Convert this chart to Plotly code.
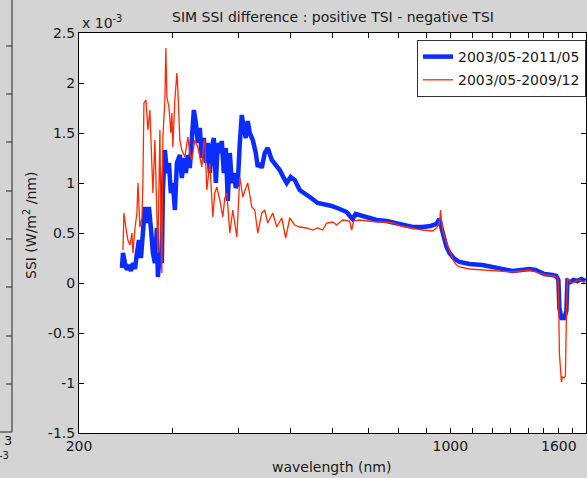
import math
import plotly.graph_objects as go

# ---------------- data (SSI difference in units of 1e-3 W/m^2/nm) ----------------
wl_2011 = [240.9, 242.0, 244.1, 246.2, 248.3, 250.5, 252.7, 254.9, 257.1, 259.3, 261.6, 263.8,
           266.1, 268.4, 270.8, 273.1, 275.5, 277.9, 280.3, 281.5, 284.0, 286.4, 287.7, 290.2,
           292.7, 295.3, 297.8, 300.4, 303.0, 305.7, 309.6, 312.3, 315.1, 317.8, 320.6, 323.3,
           326.2, 329.0, 331.9, 334.7, 337.6, 340.6, 343.5, 346.5, 349.5, 352.6, 355.6, 358.7,
           361.9, 365.0, 368.2, 371.4, 374.6, 377.9, 381.1, 384.5, 387.8, 391.2, 394.6, 398.0,
           401.5, 405.0, 408.5, 412.0, 415.6, 419.2, 424.7, 430.3, 434.0, 437.8, 441.6, 447.3,
           453.2, 461.1, 469.2, 477.4, 485.7, 492.0, 500.6, 509.4, 520.5, 531.9, 543.6, 562.7,
           580.0, 597.9, 618.9, 638.0, 649.1, 654.7, 663.3, 680.8, 704.7, 726.4, 758.5, 792.1,
           820.0, 848.9, 886.4, 917.7, 941.8, 954.1, 962.4, 975.0, 983.5, 996.3, 1013.7, 1040.4,
           1086.4, 1149.3, 1195.0, 1237.1, 1275.1, 1308.7, 1360.7, 1408.6, 1445.7, 1470.9, 1503.1,
           1556.1, 1583.2, 1597.0, 1603.9, 1617.9, 1639.0, 1653.3, 1660.4, 1682.1, 1704.1, 1733.9,
           1764.2, 1795.0]
ssi_2011 = [0.15, 0.30, 0.20, 0.13, 0.18, 0.12, 0.20, 0.14, 0.30, 0.43, 0.25, 0.45,
            0.76, 0.60, 0.76, 0.55, 0.30, 0.20, 0.55, 0.06, 0.30, 0.20, 0.93, 1.33,
            1.10, 1.20, 0.90, 1.00, 0.73, 1.20, 1.28, 1.05, 1.25, 1.10, 1.28, 1.15,
            1.55, 1.73, 1.60, 1.40, 1.55, 1.25, 1.45, 1.20, 1.40, 1.10, 1.35, 1.45,
            1.00, 1.40, 1.30, 1.42, 1.10, 1.35, 0.82, 1.30, 1.00, 1.10, 0.95, 1.00,
            1.40, 1.68, 1.55, 1.45, 1.62, 1.50, 1.43, 1.30, 1.16, 1.20, 1.15, 1.30,
            1.35, 1.23, 1.18, 1.13, 1.05, 1.00, 1.06, 1.03, 0.93, 0.90, 0.86, 0.80,
            0.79, 0.77, 0.74, 0.71, 0.66, 0.64, 0.69, 0.67, 0.65, 0.63, 0.62, 0.60,
            0.58, 0.56, 0.56, 0.57, 0.59, 0.64, 0.55, 0.43, 0.36, 0.30, 0.25, 0.21,
            0.19, 0.18, 0.16, 0.15, 0.13, 0.12, 0.13, 0.14, 0.13, 0.11, 0.09,
            0.08, 0.07, 0.03, -0.25, -0.35, -0.35, -0.28, 0.02, 0.01, 0.03, 0.02,
            0.04, 0.02]

wl_2009 = [242.0, 243.0, 245.1, 247.2, 249.4, 251.6, 252.7, 254.9, 257.1, 258.2, 260.4, 262.7,
           263.8, 265.0, 267.3, 269.6, 271.9, 273.1, 274.3, 275.5, 277.9, 280.3, 281.5, 282.7,
           284.0, 285.2, 286.4, 287.7, 290.2, 291.4, 292.7, 295.3, 297.8, 299.1, 300.4, 303.0,
           305.7, 307.0, 309.6, 312.3, 316.4, 320.6, 323.3, 326.2, 330.4, 334.7, 337.6, 340.6,
           343.5, 345.0, 348.0, 352.6, 357.2, 360.3, 363.4, 368.2, 373.0, 376.2, 379.5, 384.5,
           389.5, 392.9, 396.3, 401.5, 406.7, 412.0, 415.6, 422.9, 428.4, 434.0, 441.6, 447.3,
           453.2, 463.1, 471.2, 481.5, 489.9, 498.5, 509.4, 520.5, 536.5, 550.7, 562.7, 575.0,
           585.1, 600.4, 610.9, 627.0, 646.3, 651.9, 657.6, 674.9, 698.7, 726.4, 752.0, 778.5,
           809.4, 837.9, 863.7, 886.4, 925.7, 941.8, 954.1, 958.3, 966.6, 979.2, 996.3, 1013.7,
           1027.0, 1040.4, 1086.4, 1149.3, 1195.0, 1237.1, 1308.7, 1360.7, 1408.6, 1470.9,
           1516.2, 1569.6, 1590.1, 1597.0, 1603.9, 1617.9, 1624.9, 1639.0, 1646.1, 1653.3,
           1660.4, 1682.1, 1696.8, 1726.4, 1749.0, 1779.5, 1795.0]
ssi_2009 = [0.33, 0.70, 0.55, 0.43, 0.38, 0.50, 0.30, 0.55, 0.70, 1.00, 0.56, 0.65,
            1.00, 1.80, 1.83, 1.53, 1.73, 1.50, 1.26, 0.90, 1.43, 0.73, 0.30, 0.90,
            1.53, 0.60, 0.10, 1.46, 1.83, 2.35, 1.86, 1.76, 1.50, 1.70, 1.36, 1.83,
            2.10, 1.93, 1.43, 1.33, 1.26, 1.46, 1.30, 1.23, 1.43, 1.36, 1.25, 1.16,
            1.40, 1.43, 0.93, 1.20, 0.66, 0.90, 0.96, 0.83, 0.66, 0.85, 0.90, 0.50,
            0.73, 0.60, 0.46, 1.06, 0.86, 0.95, 1.00, 0.76, 0.73, 0.50, 0.70, 0.73,
            0.60, 0.70, 0.56, 0.65, 0.45, 0.65, 0.58, 0.56, 0.55, 0.53, 0.55, 0.53,
            0.60, 0.61, 0.58, 0.63, 0.62, 0.53, 0.62, 0.63, 0.62, 0.61, 0.61, 0.60,
            0.57, 0.55, 0.54, 0.53, 0.52, 0.55, 0.60, 0.73, 0.53, 0.43, 0.33, 0.22,
            0.18, 0.16, 0.14, 0.13, 0.12, 0.12, 0.11, 0.12, 0.13, 0.10,
            0.08, 0.07, 0.06, 0.00, -0.70, -0.99, -0.94, -0.95, -0.93, -0.34,
            0.05, 0.01, 0.00, 0.02, 0.03, 0.01, 0.02]

series_names = ["2003/05-2011/05", "2003/05-2009/12"]
x_labelled_ticks = [200, 1000, 1600]
x_labels = ["200", "1000", "1600"]
x_minor_ticks = [300, 400, 500, 600, 700, 800, 900, 1100, 1200, 1300, 1400, 1500, 1700]
y_tickvals = [2.5, 2, 1.5, 1, 0.5, 0, -0.5, -1, -1.5]
y_ticktext = ["2.5", "2", "1.5", "1", "0.5", "0", "-0.5", "-1", "-1.5"]

# ---------------- layout helpers ----------------
W, H = 587, 478
ML, MR, MT, MB = 79, 1, 33, 45
PW, PH = W - ML - MR, H - MT - MB


def px(x):
    return (x - ML) / PW


def py(y):
    return (MT + PH - y) / PH


FONT = "DejaVu Sans"
TXT = "#1a1a1a"

fig = go.Figure()
fig.add_trace(go.Scatter(x=wl_2011, y=ssi_2011, mode="lines", name=series_names[0],
                         line=dict(color="#0a2cff", width=4.5), legendgroup="a"))
fig.add_trace(go.Scatter(x=wl_2009, y=ssi_2009, mode="lines", name=series_names[1],
                         line=dict(color="#ff2a00", width=1.3), legendgroup="b"))

axis_common = dict(showline=True, linecolor="black", linewidth=1, mirror="ticks",
                   ticks="inside", ticklen=5, tickcolor="black", showgrid=False,
                   zeroline=False, tickfont=dict(family=FONT, size=14, color=TXT))

fig.update_xaxes(type="log", range=[math.log10(200), math.log10(1800)],
                 tickmode="array", tickvals=x_labelled_ticks, ticktext=x_labels,
                 minor=dict(tickmode="array", tickvals=x_minor_ticks, ticks="inside",
                            ticklen=5, tickcolor="black", showgrid=False),
                 **axis_common)
fig.update_yaxes(range=[-1.5, 2.5], tickmode="array", tickvals=y_tickvals,
                 ticktext=y_ticktext, **axis_common)

annotations = [
    dict(text="SIM SSI difference : positive TSI - negative TSI", x=0.5, y=py(17),
         xanchor="center", yanchor="middle", font=dict(size=14)),
    dict(text="x 10<sup>-3</sup>", x=px(80), y=py(22), xanchor="left", yanchor="middle",
         font=dict(size=14)),
    dict(text="wavelength (nm)", x=px(331), y=py(467), xanchor="center", yanchor="middle",
         font=dict(size=14)),
    dict(text="SSI (W/m<sup>2</sup> /nm)", x=px(30), y=py(226), xanchor="center",
         yanchor="middle", textangle=-90, font=dict(size=14)),
    # neighbouring figure panel cut at the left border
    dict(text="3", x=px(14), y=py(440), xanchor="right", yanchor="middle", font=dict(size=13)),
    dict(text="-3", x=px(11), y=py(455), xanchor="right", yanchor="middle", font=dict(size=10)),
]
for a in annotations:
    a.update(xref="paper", yref="paper", showarrow=False)
    a["font"].update(family=FONT, color=TXT)

shapes = [
    dict(type="line", x0=px(12), x1=px(12), y0=py(0), y1=py(432)),
    dict(type="line", x0=px(0), x1=px(12), y0=py(432), y1=py(432)),
]
for ty in [46, 94, 142, 191, 239, 287, 336, 384]:
    shapes.append(dict(type="line", x0=px(6), x1=px(12), y0=py(ty), y1=py(ty)))
for s in shapes:
    s.update(xref="paper", yref="paper", line=dict(color="#222222", width=1))

fig.update_layout(
    width=W, height=H, autosize=False,
    margin=dict(l=ML, r=MR, t=MT, b=MB, pad=0),
    paper_bgcolor="#d4d4d4", plot_bgcolor="white",
    font=dict(family=FONT, size=14, color=TXT),
    showlegend=True,
    legend=dict(x=1, y=py(40), xanchor="right", yanchor="top", bgcolor="white",
                bordercolor="#333333", borderwidth=1, tracegroupgap=2,
                font=dict(family=FONT, size=14, color=TXT)),
    annotations=annotations, shapes=shapes,
)

fig.write_html("out.html", config={"displayModeBar": False},
               post_script="document.body.style.margin='0';document.body.style.overflow='hidden';")
